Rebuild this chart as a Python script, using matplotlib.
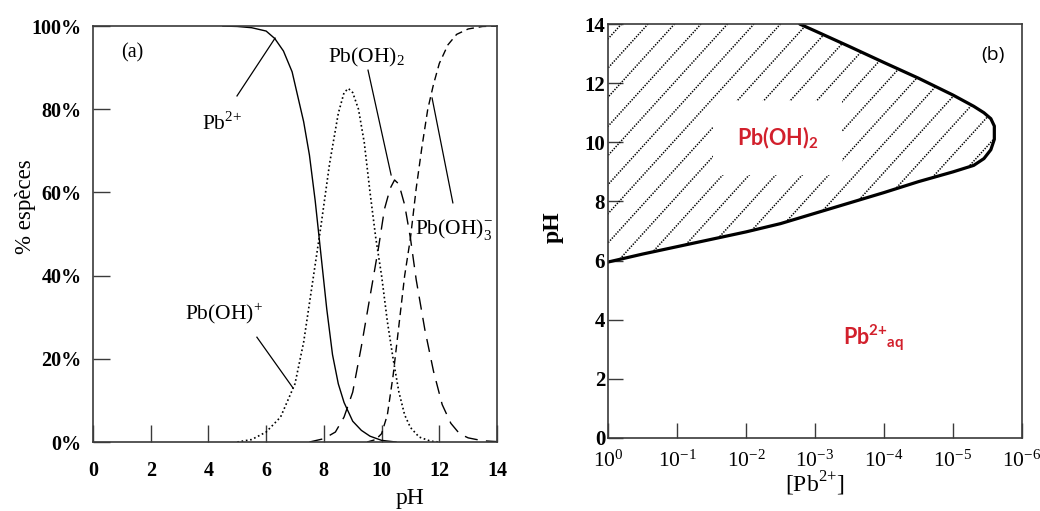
import numpy as np
import matplotlib
matplotlib.use('Agg')
import matplotlib.pyplot as plt
from matplotlib.patches import Polygon

# ---- (a) distribution des especes, % vs pH ----
ph_pb = [4.5, 5.0, 5.5, 6.0, 6.3, 6.6, 6.9, 7.1, 7.3, 7.5, 7.7, 7.9, 8.1, 8.3, 8.5, 8.7, 9.0, 9.3, 9.6, 10.0, 10.5]
pct_pb = [100, 99.9, 99.6, 98.8, 97, 94, 89, 83, 77, 69, 58, 45, 32, 21, 14, 9.5, 5, 2.8, 1.4, 0.4, 0]

ph_pboh = [5.0, 5.5, 6.0, 6.5, 7.0, 7.3, 7.6, 7.9, 8.2, 8.5, 8.7, 8.85, 9.0, 9.2, 9.4, 9.6, 9.8, 10.0, 10.2, 10.4, 10.6, 10.8, 11.0, 11.3, 11.7, 12.0]
pct_pboh = [0, 0.6, 2.4, 6, 14, 24, 38, 52, 67, 79, 84, 85, 84, 80, 72, 60, 49, 40, 29, 20, 12, 6.5, 3.5, 1.2, 0.2, 0]

ph_pboh2 = [7.5, 8.0, 8.4, 8.7, 9.0, 9.3, 9.6, 9.9, 10.1, 10.3, 10.45, 10.6, 10.8, 11.0, 11.2, 11.5, 11.8, 12.1, 12.4, 12.7, 13.0, 13.5, 14.0]
pct_pboh2 = [0, 0.8, 2.4, 6, 12, 23, 35, 47, 56, 61, 63, 62, 57, 49, 39, 27, 17, 9, 4.5, 2, 1, 0.3, 0.1]

ph_pboh3 = [9.5, 9.8, 10.0, 10.2, 10.4, 10.6, 10.8, 11.0, 11.2, 11.4, 11.6, 11.8, 12.0, 12.3, 12.6, 13.0, 13.5, 14.0]
pct_pboh3 = [0, 0.6, 2, 6.5, 16, 28, 40, 49, 61, 71, 80, 86, 91, 95.5, 98, 99.3, 99.9, 100]

a_xticks = [0, 2, 4, 6, 8, 10, 12, 14]
a_yticks = [0, 20, 40, 60, 80, 100]
a_ylabels = ['0%', '20%', '40%', '60%', '80%', '100%']

# ---- (b) domaine de precipitation de Pb(OH)2 ----
conc_low = [1.0, 0.316, 0.1, 0.0316, 1e-2, 3.16e-3, 1e-3, 3.16e-4, 1e-4, 3.16e-5, 1e-5, 5.0e-6, 3.55e-6, 2.82e-6, 2.51e-6]
ph_low = [5.95, 6.22, 6.47, 6.72, 6.97, 7.25, 7.6, 7.95, 8.3, 8.67, 9.0, 9.22, 9.45, 9.75, 10.1]
conc_up = [2.51e-6, 2.82e-6, 3.55e-6, 5.0e-6, 1e-5, 3.16e-5, 1e-4, 3.16e-4, 1e-3, 1.66e-3]
ph_up = [10.55, 10.8, 11.0, 11.22, 11.6, 12.17, 12.7, 13.24, 13.77, 14.0]

b_xticks = [1, 1e-1, 1e-2, 1e-3, 1e-4, 1e-5, 1e-6]
b_xlabels = [r'$\mathdefault{10^{0}}$', r'$\mathdefault{10^{-1}}$', r'$\mathdefault{10^{-2}}$',
             r'$\mathdefault{10^{-3}}$', r'$\mathdefault{10^{-4}}$', r'$\mathdefault{10^{-5}}$',
             r'$\mathdefault{10^{-6}}$']
b_yticks = [0, 2, 4, 6, 8, 10, 12, 14]

serif = 'Liberation Serif'
red = '#d2202c'
spine_col = '#3a3a3a'

fig = plt.figure(figsize=(10.4, 5.11), dpi=100)
ax1 = fig.add_axes([0.0894, 0.135, 0.3885, 0.814])
ax2 = fig.add_axes([0.5846, 0.1429, 0.398, 0.810])

# panel a
ax1.plot(ph_pb, pct_pb, color='k', lw=1.0, ls='-')
ax1.plot(ph_pboh, pct_pboh, color='k', lw=1.2, ls=(0, (1, 1.6)))
ax1.plot(ph_pboh2, pct_pboh2, color='k', lw=1.0, ls=(0, (9.5, 6)))
ax1.plot(ph_pboh3, pct_pboh3, color='k', lw=1.0, ls=(0, (5.5, 3.5)))

ax1.set_xlim(0, 14)
ax1.set_ylim(0, 100)
ax1.set_xticks(a_xticks)
ax1.set_yticks(a_yticks)
ax1.set_yticklabels(a_ylabels)
ax1.tick_params(direction='in', length=12, width=1, color=spine_col)
ax1.tick_params(axis='x', pad=14)
ax1.tick_params(axis='y', pad=8)
for lab in ax1.get_xticklabels() + ax1.get_yticklabels():
    lab.set_fontfamily(serif)
    lab.set_fontweight('bold')
    lab.set_fontsize(14.5)
for sp in ax1.spines.values():
    sp.set_color(spine_col)
    sp.set_linewidth(1.2)

ax1.text(0.785, -0.135, 'pH', transform=ax1.transAxes, ha='center', va='center',
         fontsize=17, family=serif)
ax1.text(-0.168, 0.565, '% espèces', transform=ax1.transAxes, ha='center', va='center',
         fontsize=16.5, family=serif, rotation=90)
ax1.text(1.35, 93.5, '(a)', ha='center', va='center', fontsize=14.5, family=serif)

lab_kw = dict(fontsize=15.5, family=serif, va='center', ha='left')
ax1.text(3.78, 76.5, r'Pb$^{\mathdefault{2}{\mathdefault{+}}}$', **lab_kw)
ax1.plot([4.99, 6.31], [83.2, 97.1], color='k', lw=0.9)
ax1.text(8.14, 92.5, r'Pb(OH)$_\mathdefault{2}$', **lab_kw)
ax1.plot([9.53, 10.33], [89.4, 64.2], color='k', lw=0.9)
ax1.text(11.16, 51, r'Pb(OH)$_\mathdefault{3}^\mathdefault{-}$', **lab_kw)
ax1.plot([12.47, 11.75], [57.5, 82.7], color='k', lw=0.9)
ax1.text(3.19, 31, r'Pb(OH)$^\mathdefault{+}$', **lab_kw)
ax1.plot([5.68, 6.93], [25.2, 13.0], color='k', lw=0.9)

# panel b
ax2.set_xscale('log')
ax2.set_xlim(1, 1e-6)
ax2.set_ylim(0, 14)

poly_x = conc_low + conc_up + [1.0]
poly_y = ph_low + ph_up + [14.0]
region = Polygon(np.column_stack([poly_x, poly_y]), closed=True, facecolor='none',
                 edgecolor='none', transform=ax2.transData)
ax2.add_patch(region)

# dotted diagonal hatching of the Pb(OH)2 domain
slope = 1.1
step = 0.064
for k in range(-20, 20):
    xt = 0.0966 + k * step
    hl, = ax2.plot([xt - 1.0 / slope, xt], [0, 1], transform=ax2.transAxes,
                   color='k', lw=1.1, ls=(0, (0.9, 0.9)))
    hl.set_clip_path(region)

ax2.plot(conc_low + conc_up, ph_low + ph_up, color='k', lw=2.3, solid_capstyle='round',
         solid_joinstyle='round')

ax2.xaxis.set_major_locator(matplotlib.ticker.FixedLocator(b_xticks))
ax2.xaxis.set_minor_locator(matplotlib.ticker.NullLocator())
ax2.set_xticklabels(b_xlabels)
ax2.set_yticks(b_yticks)
ax2.tick_params(direction='in', length=11, width=1, color=spine_col)
ax2.tick_params(axis='x', pad=9)
ax2.tick_params(axis='y', pad=2)
for lab in ax2.get_xticklabels():
    lab.set_fontfamily(serif)
    lab.set_fontsize(15.5)
for lab in ax2.get_yticklabels():
    lab.set_fontfamily(serif)
    lab.set_fontweight('bold')
    lab.set_fontsize(15)
for sp in ax2.spines.values():
    sp.set_color(spine_col)
    sp.set_linewidth(1.2)

ax2.text(0.5, -0.112, r'[Pb$^{\mathdefault{2}{\mathdefault{+}}}$]', transform=ax2.transAxes,
         ha='center', va='center', fontsize=17, family=serif)
ax2.text(-0.133, 0.51, 'pH', transform=ax2.transAxes, ha='center', va='center',
         fontsize=17, family=serif, fontweight='bold', rotation=90)
ax2.text(0.93, 0.925, '(b)', transform=ax2.transAxes, ha='center', va='center',
         fontsize=14, family='Open Sans')
ax2.text(0.41, 0.725, r'Pb(OH)$_\mathdefault{2}$', transform=ax2.transAxes, ha='center',
         va='center', fontsize=15.5, family='Lato', fontweight='bold', color=red, zorder=5,
         bbox=dict(facecolor='white', edgecolor='none', boxstyle='square,pad=1.1'))
ax2.text(0.568, 0.24, r'Pb$^{\mathdefault{2}{\mathdefault{+}}}$$_\mathdefault{aq}$',
         transform=ax2.transAxes, ha='left', va='center', fontsize=15.5, family='Lato',
         fontweight='bold', color=red)

fig.savefig('out.png', dpi=100)
